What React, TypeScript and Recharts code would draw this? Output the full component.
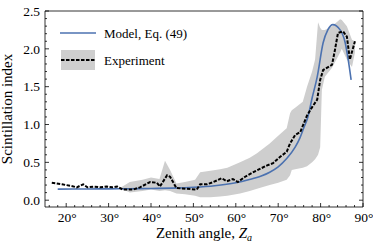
import { ComposedChart, Line, Area, XAxis, YAxis } from "recharts"

const W = 373
const H = 243

// zenith angle (deg) for the model curve, Eq. (49)
const modelAngle = [18, 25, 30, 35, 40, 45, 50, 55, 60, 63, 66, 68, 70, 72, 74, 75.1, 76, 77, 78, 79.2, 80.6, 81.7, 82.9, 84.6, 85.8, 86.5, 87.2]
const modelIndex = [0.146, 0.148, 0.15, 0.152, 0.155, 0.16, 0.17, 0.19, 0.23, 0.27, 0.32, 0.37, 0.44, 0.55, 0.7, 0.82, 0.95, 1.1, 1.35, 1.63, 2.08, 2.25, 2.32, 2.25, 2.08, 1.86, 1.59]

// measured mean
const expAngle = [16.6, 19, 21, 22.5, 24, 25, 26.5, 28, 29.5, 31, 32, 33.4, 35.8, 37.4, 39.8, 41.4, 42.1, 43.8, 44.5, 46, 48.4, 50.8, 51.6, 53.2, 54.7, 56.7, 57.9, 59.3, 60.5, 62.2, 63.8, 65.2, 67.4, 68.8, 70.4, 72, 72.8, 74, 75.2, 76.8, 78, 79.2, 79.9, 80.6, 82.7, 83.4, 84.1, 85.3, 86.2, 86.9, 88.1]
const expIndex = [0.23, 0.21, 0.19, 0.17, 0.21, 0.17, 0.18, 0.17, 0.18, 0.17, 0.18, 0.14, 0.14, 0.17, 0.24, 0.23, 0.18, 0.33, 0.31, 0.16, 0.15, 0.14, 0.21, 0.21, 0.24, 0.29, 0.25, 0.28, 0.24, 0.31, 0.36, 0.4, 0.46, 0.49, 0.57, 0.64, 0.75, 0.86, 0.9, 1.12, 1.23, 1.33, 1.59, 1.72, 1.79, 1.99, 2.21, 2.23, 2.16, 1.86, 2.1]

// spread of the measurements
const bandAngle = [33, 35, 38, 40, 42, 43.3, 44.5, 46, 48, 50.4, 51.6, 54, 56.3, 58, 61, 63.3, 65, 68, 70, 72, 72.8, 73.2, 74, 75.8, 76.8, 78, 78.7, 79.4, 79.9, 80.3, 81, 82.7, 84.6, 85, 86.2, 87.4, 88.1]
const bandLow = [0.15, 0.1, 0.12, 0.14, 0.12, 0.13, 0.12, 0.09, 0.08, 0.06, 0.04, 0.04, 0.05, 0.06, 0.09, 0.12, 0.15, 0.2, 0.23, 0.27, 0.33, 0.4, 0.41, 0.43, 0.45, 0.5, 0.54, 0.6, 0.7, 1.46, 1.63, 1.75, 1.95, 2.0, 1.86, 1.76, 1.95]
const bandHigh = [0.17, 0.24, 0.27, 0.3, 0.28, 0.52, 0.4, 0.22, 0.24, 0.27, 0.37, 0.39, 0.41, 0.43, 0.5, 0.56, 0.62, 0.75, 0.85, 0.95, 1.15, 1.19, 1.22, 1.3, 1.5, 1.7, 1.86, 2.35, 2.28, 2.25, 2.25, 2.3, 2.39, 2.38, 2.3, 2.12, 2.1]

const xMajor = [20, 30, 40, 50, 60, 70, 80, 90]
const yMajor = [0, 0.5, 1, 1.5, 2, 2.5]

const xTicks: number[] = []
for (let v = 16; v <= 90; v += 2) xTicks.push(v)
const yTicks: number[] = []
for (let i = 0; i <= 25; i++) yTicks.push(i / 10)

const modelData = modelAngle.map((x, i) => ({ x, v: modelIndex[i] }))
const expData = expAngle.map((x, i) => ({ x, v: expIndex[i] }))
const bandData = bandAngle.map((x, i) => ({ x, range: [bandLow[i], bandHigh[i]] }))

const txt = { fontFamily: '"Liberation Serif"' }
const BLUE = "#4c72b0"
const GREY = "#cecece"

const isMajorX = (v: number) => xMajor.includes(v)
const isMajorY = (v: number) => yMajor.some((m) => Math.abs(m - v) < 1e-6)

function BottomTick({ x, y, payload }: any) {
  const major = isMajorX(payload.value)
  return (
    <g>
      <line x1={x} x2={x} y1={y} y2={y - (major ? 4 : 2)} stroke="#000" strokeWidth={0.8} />
      {major && (
        <text x={x + 1} y={y + 15} textAnchor="middle" fontSize={13.5} style={txt} fill="#000">
          {payload.value}°
        </text>
      )}
    </g>
  )
}

function TopTick({ x, y, payload }: any) {
  const major = isMajorX(payload.value)
  return <line x1={x} x2={x} y1={y} y2={y + (major ? 4 : 2)} stroke="#000" strokeWidth={0.8} />
}

function LeftTick({ x, y, payload }: any) {
  const major = isMajorY(payload.value)
  return (
    <g>
      <line x1={x} x2={x + (major ? 4 : 2)} y1={y} y2={y} stroke="#000" strokeWidth={0.8} />
      {major && (
        <text x={x - 5} y={y} dy="0.35em" textAnchor="end" fontSize={13.5} style={txt} fill="#000">
          {payload.value.toFixed(1)}
        </text>
      )}
    </g>
  )
}

function RightTick({ x, y, payload }: any) {
  const major = isMajorY(payload.value)
  return <line x1={x} x2={x - (major ? 4 : 2)} y1={y} y2={y} stroke="#000" strokeWidth={0.8} />
}

function Legend() {
  return (
    <svg width={220} height={80} style={{ position: "absolute", left: 0, top: 0, pointerEvents: "none" }}>
      <line x1={60} x2={96} y1={33} y2={33} stroke={BLUE} strokeWidth={1.6} />
      <text x={104} y={33} dy="0.35em" fontSize={13} style={txt} fill="#000">
        Model, Eq. (49)
      </text>
      <rect x={61} y={50} width={34} height={20} fill={GREY} />
      <line x1={61} x2={95} y1={60} y2={60} stroke="#000" strokeWidth={2} strokeDasharray="3.5 1.5" />
      <text x={104} y={60} dy="0.35em" fontSize={13} style={txt} fill="#000">
        Experiment
      </text>
    </svg>
  )
}

export default function App() {
  return (
    <div style={{ position: "absolute", left: 0, top: 0, width: W, height: H, background: "#fff" }}>
      <ComposedChart width={W} height={H} margin={{ top: 10, right: 9, bottom: 35, left: 44 }}>
        <XAxis
          xAxisId="b"
          dataKey="x"
          type="number"
          domain={[15, 90]}
          allowDataOverflow
          ticks={xTicks}
          interval={0}
          height={1}
          tickLine={false}
          tickSize={0}
          tickMargin={0}
          tick={BottomTick}
          axisLine={{ stroke: "#000", strokeWidth: 0.8 }}
          label={(p: any) => {
            const vb = p.viewBox
            return (
              <text x={vb.x + vb.width / 2} y={vb.y + 31} textAnchor="middle" fontSize={15} style={txt} fill="#000">
                Zenith angle, <tspan fontStyle="italic">Z</tspan>
                <tspan fontStyle="italic" fontSize={10} dy={3}>a</tspan>
              </text>
            )
          }}
        />
        <XAxis
          xAxisId="t"
          orientation="top"
          type="number"
          domain={[15, 90]}
          allowDataOverflow
          ticks={xTicks}
          interval={0}
          height={1}
          tickLine={false}
          tickSize={0}
          tickMargin={0}
          tick={TopTick}
          axisLine={{ stroke: "#000", strokeWidth: 0.8 }}
        />
        <YAxis
          yAxisId="l"
          type="number"
          domain={[-0.09, 2.5]}
          allowDataOverflow
          ticks={yTicks}
          interval={0}
          width={1}
          tickLine={false}
          tickSize={0}
          tickMargin={0}
          tick={LeftTick}
          axisLine={{ stroke: "#000", strokeWidth: 0.8 }}
          label={(p: any) => {
            const vb = p.viewBox
            const cx = vb.x - 32
            const cy = vb.y + vb.height / 2
            return (
              <text x={cx} y={cy} transform={`rotate(-90 ${cx} ${cy})`} textAnchor="middle" fontSize={15} style={txt} fill="#000">
                Scintillation index
              </text>
            )
          }}
        />
        <YAxis
          yAxisId="r"
          orientation="right"
          type="number"
          domain={[-0.09, 2.5]}
          allowDataOverflow
          ticks={yTicks}
          interval={0}
          width={1}
          tickLine={false}
          tickSize={0}
          tickMargin={0}
          tick={RightTick}
          axisLine={{ stroke: "#000", strokeWidth: 0.8 }}
        />
        <Area
          xAxisId="b"
          yAxisId="l"
          data={bandData}
          dataKey="range"
          type="linear"
          stroke="none"
          fill={GREY}
          fillOpacity={1}
          isAnimationActive={false}
        />
        <Line
          xAxisId="b"
          yAxisId="l"
          data={modelData}
          dataKey="v"
          type="monotone"
          stroke={BLUE}
          strokeWidth={1.6}
          dot={false}
          isAnimationActive={false}
        />
        <Line
          xAxisId="b"
          yAxisId="l"
          data={expData}
          dataKey="v"
          type="linear"
          stroke="#000"
          strokeWidth={2}
          strokeDasharray="3.5 1.5"
          dot={false}
          isAnimationActive={false}
        />
      </ComposedChart>
      <Legend />
    </div>
  )
}
